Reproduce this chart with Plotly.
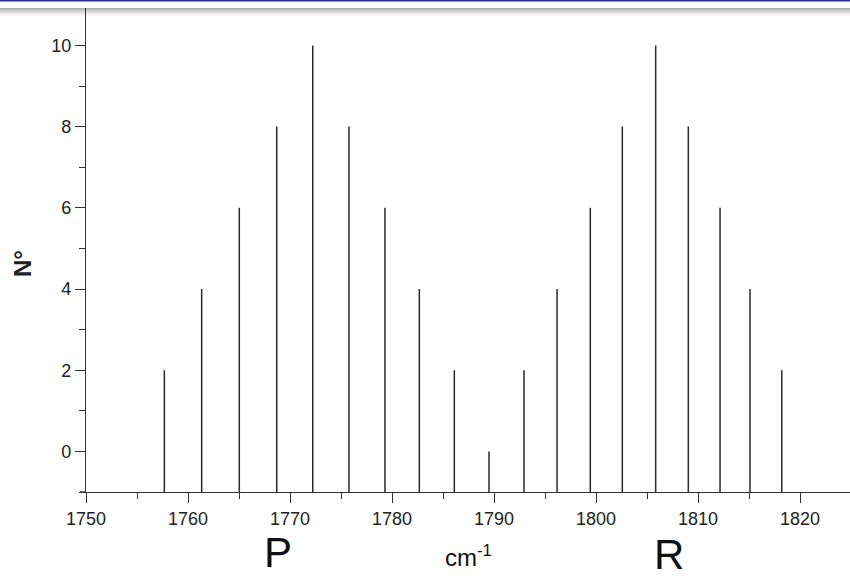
import plotly.graph_objects as go

# Line positions (cm^-1) and intensities (N°)
p_branch_x = [1757.68, 1761.34, 1765.03, 1768.70, 1772.23, 1775.78, 1779.31, 1782.68, 1786.11, 1789.51]
p_branch_y = [2, 4, 6, 8, 10, 8, 6, 4, 2, 0]
r_branch_x = [1792.94, 1796.18, 1799.44, 1802.58, 1805.85, 1809.05, 1812.16, 1815.10, 1818.21]
r_branch_y = [2, 4, 6, 8, 10, 8, 6, 4, 2]

x_ticks = [1750, 1760, 1770, 1780, 1790, 1800, 1810, 1820]
y_ticks = [0, 2, 4, 6, 8, 10]
baseline = -1

all_x = p_branch_x + r_branch_x
all_y = p_branch_y + r_branch_y
seg_x, seg_y = [], []
for xv, yv in zip(all_x, all_y):
    seg_x += [xv, xv, None]
    seg_y += [baseline, yv, None]

fig = go.Figure()
fig.add_trace(go.Scatter(x=seg_x, y=seg_y, mode="lines",
                         line=dict(color="#2a2a2a", width=1.5),
                         showlegend=False, hoverinfo="skip"))

W, H = 850, 579
ml, mr, mt, mb = 86, 0, 8, 87
plot_h = H - mt - mb
plot_w = W - ml - mr

def py(p):
    return (H - mb - p) / plot_h

def px(p):
    return (p - ml) / plot_w

shapes = []
# blue header line
shapes.append(dict(type="rect", xref="paper", yref="paper", x0=px(0), x1=px(W),
                   y0=py(1.6), y1=py(0), fillcolor="#2e3192", line=dict(width=0), layer="above"))
# gray gradient band
grays = [165, 180, 195, 208, 220, 231, 240, 247, 252, 255]
for i, g in enumerate(grays):
    shapes.append(dict(type="rect", xref="paper", yref="paper", x0=px(0), x1=px(W),
                       y0=py(8 + i + 1), y1=py(8 + i),
                       fillcolor=f"rgba({g},{g},{g},0.9)", line=dict(width=0), layer="below"))
# x-axis line extension to the left of y axis
shapes.append(dict(type="line", xref="paper", yref="paper", x0=px(80), x1=0, y0=0, y1=0,
                   line=dict(color="#333333", width=1.4)))

fig.update_layout(
    width=W, height=H,
    margin=dict(l=ml, r=mr, t=mt, b=mb),
    paper_bgcolor="white", plot_bgcolor="rgba(0,0,0,0)",
    font=dict(family="Liberation Sans, Arial, sans-serif", color="#222222"),
    shapes=shapes,
    xaxis=dict(range=[1750, 1750 + plot_w / 10.2], tickvals=x_ticks,
               ticks="outside", ticklen=10, tickwidth=1.4, tickcolor="#333333",
               showline=True, linecolor="#333333", linewidth=1.4,
               showgrid=False, zeroline=False,
               tickfont=dict(size=18),
               minor=dict(dtick=5, tick0=1750, ticks="outside", ticklen=6,
                          tickwidth=1.4, tickcolor="#333333", showgrid=False)),
    yaxis=dict(range=[-1, -1 + plot_h / 40.6], tickvals=y_ticks,
               ticks="outside", ticklen=10, tickwidth=1.4, tickcolor="#333333",
               showline=True, linecolor="#333333", linewidth=1.4,
               showgrid=False, zeroline=False,
               tickfont=dict(size=18),
               minor=dict(dtick=1, tick0=0, ticks="outside", ticklen=6,
                          tickwidth=1.4, tickcolor="#333333", showgrid=False)),
    annotations=[
        dict(text="<b>N°</b>", xref="paper", yref="paper", x=px(22), y=py(264),
             showarrow=False, textangle=-90, font=dict(size=24, color="#222222"),
             xanchor="center", yanchor="middle"),
        dict(text="P", xref="paper", yref="paper", x=px(278), y=py(552),
             showarrow=False, font=dict(size=42, color="#111111"),
             xanchor="center", yanchor="middle"),
        dict(text="R", xref="paper", yref="paper", x=px(669), y=py(554),
             showarrow=False, font=dict(size=42, color="#111111"),
             xanchor="center", yanchor="middle"),
        dict(text="cm<sup>-1</sup>", xref="paper", yref="paper", x=px(468), y=py(556),
             showarrow=False, font=dict(size=24, color="#111111"),
             xanchor="center", yanchor="middle"),
    ],
)

fig.write_html("out.html")
